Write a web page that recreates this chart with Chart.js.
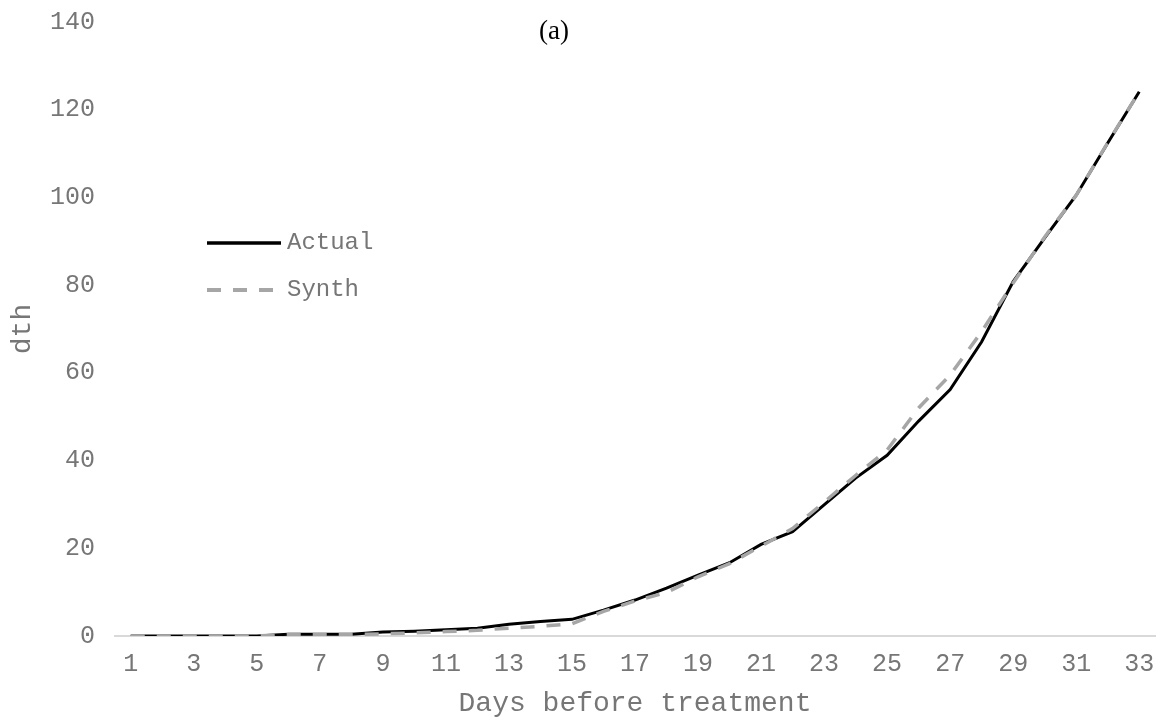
<!DOCTYPE html>
<html>
<head>
<meta charset="utf-8">
<script src="https://cdn.jsdelivr.net/npm/chart.js@4.4.1/dist/chart.umd.min.js"></script>
<style>
  html, body { margin: 0; padding: 0; background: #ffffff; }
  #wrap { width: 1160px; height: 721px; }
</style>
</head>
<body>
<div id="wrap"><canvas id="c" width="1160" height="721"></canvas></div>
<script>
const days = ["1","2","3","4","5","6","7","8","9","10","11","12","13","14","15","16","17","18","19","20","21","22","23","24","25","26","27","28","29","30","31","32","33"];
const actual = [0,0,0,0,0,0.4,0.4,0.4,0.9,1.1,1.4,1.75,2.7,3.3,3.8,5.9,8.2,10.9,13.9,16.7,20.9,23.8,29.9,36,41.2,49,56.2,67.1,80.8,90.8,100.5,112.4,124.1];
const synth  = [0,0,0,0,0,0.3,0.3,0.3,0.5,0.7,1.0,1.3,1.8,2.2,2.8,5.6,8.0,9.9,13.5,16.5,20.5,24.5,30.5,36.6,42.4,52.0,59.5,69.4,80.5,91.0,100.5,112.5,124.1];
const yTicks = [0,20,40,60,80,100,120,140];
const seriesLabels = ["Actual","Synth"];
const titleText = "(a)";
const xTitle = "Days before treatment";
const yTitle = "dth";

const GRAY_TEXT = "#767676";

const legendPlugin = {
  id: 'customLegend',
  afterDraw(chart) {
    const ctx = chart.ctx;
    const items = [
      { ds: chart.data.datasets[0], y: 243 },
      { ds: chart.data.datasets[1], y: 290 }
    ];
    ctx.save();
    items.forEach(it => {
      ctx.beginPath();
      ctx.strokeStyle = it.ds.borderColor;
      ctx.lineWidth = it.ds.borderWidth + 0.5;
      ctx.setLineDash(it.ds.borderDash || []);
      ctx.lineCap = 'butt';
      ctx.moveTo(207, it.y);
      ctx.lineTo(281, it.y);
      ctx.stroke();
      ctx.setLineDash([]);
      ctx.fillStyle = GRAY_TEXT;
      ctx.font = "24px 'Liberation Mono'";
      ctx.textBaseline = 'middle';
      ctx.textAlign = 'left';
      ctx.fillText(it.ds.label, 287, it.y);
    });
    ctx.fillStyle = "#000000";
    ctx.font = "27px 'Liberation Serif'";
    ctx.textAlign = 'center';
    ctx.textBaseline = 'middle';
    ctx.fillText(titleText, 554, 32);
    ctx.restore();
  }
};

new Chart(document.getElementById('c'), {
  type: 'line',
  data: {
    labels: days,
    datasets: [
      {
        label: seriesLabels[0],
        data: actual,
        borderColor: '#000000',
        borderWidth: 3,
        pointRadius: 0,
        tension: 0,
        fill: false,
        order: 2
      },
      {
        label: seriesLabels[1],
        data: synth,
        borderColor: '#a6a6a6',
        borderWidth: 3.5,
        borderDash: [14, 12],
        pointRadius: 0,
        tension: 0,
        fill: false,
        order: 1
      }
    ]
  },
  options: {
    responsive: false,
    animation: false,
    devicePixelRatio: 1,
    layout: { padding: { top: 0, right: 5, bottom: 0, left: 0 } },
    plugins: {
      legend: { display: false },
      title: { display: false },
      tooltip: { enabled: false }
    },
    scales: {
      x: {
        type: 'category',
        offset: true,
        grid: { display: false, drawTicks: false },
        border: { display: true, color: '#d9d9d9', width: 2 },
        ticks: {
          autoSkip: false,
          maxRotation: 0,
          minRotation: 0,
          padding: 13,
          color: GRAY_TEXT,
          font: { family: "'Liberation Mono'", size: 25 },
          callback: function(v, i) { return (i % 2 === 0) ? days[i] : ''; }
        },
        title: {
          display: true,
          text: xTitle,
          color: GRAY_TEXT,
          font: { family: "'Liberation Mono'", size: 28 },
          padding: { top: 0, bottom: 1 }
        },
        afterFit(scale) { scale.height = 85; scale.paddingRight = 0; scale.paddingLeft = 0; }
      },
      y: {
        min: 0,
        max: 140,
        afterBuildTicks(scale) { scale.ticks = yTicks.map(v => ({ value: v })); },
        grid: { display: false, drawTicks: true, tickLength: 13 },
        border: { display: false },
        ticks: {
          padding: 7,
          color: GRAY_TEXT,
          font: { family: "'Liberation Mono'", size: 25 }
        },
        title: {
          display: true,
          text: yTitle,
          color: GRAY_TEXT,
          font: { family: "'Liberation Mono'", size: 28 },
          padding: { top: 6, bottom: 0 }
        },
        afterFit(scale) { scale.width = 115; }
      }
    }
  },
  plugins: [legendPlugin]
});
</script>
</body>
</html>
